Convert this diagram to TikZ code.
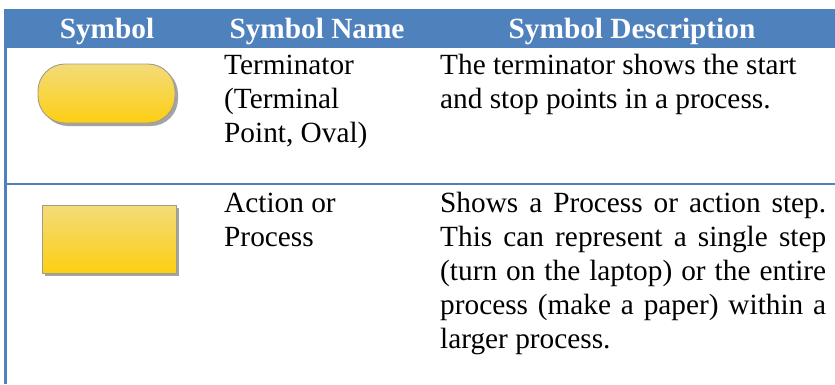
\documentclass[tikz,border=0pt]{standalone}
\usepackage{fontspec}
\setmainfont{Liberation Serif}
\usetikzlibrary{shadows}
\definecolor{hdrblue}{HTML}{4F81BD}
\definecolor{goldtop}{HTML}{F3DB7A}
\definecolor{goldbot}{HTML}{FDCF12}
\definecolor{edgegray}{HTML}{A39C8A}

% a fully justified line of a fixed width
\newcommand{\fullline}[1]{\makebox[386pt][s]{#1}}

\begin{document}
\begin{tikzpicture}[x=1pt,y=-1pt,
  cell/.style={anchor=base west, inner sep=0pt, font=\fontsize{29.3}{34.3}\selectfont},
  head/.style={anchor=base, inner sep=0pt, text=white, font=\fontsize{29.3}{34.3}\selectfont\bfseries},
  symfill/.style={top color=goldtop, bottom color=goldbot, draw=edgegray, line width=0.9pt,
    inner sep=0pt, drop shadow={shadow xshift=3pt, shadow yshift=-3pt, fill=black!45, opacity=0.8}},
  rule/.style={draw=hdrblue, line width=2.5pt}
]
\useasboundingbox (0,0) rectangle (835,384);

% header band
\fill[hdrblue] (4,9) rectangle (835,48);
\node[head] (hsym)  at (107,38) {Symbol};
\node[head] (hname) at (317,38) {Symbol Name};
\node[head] (hdesc) at (632,38) {Symbol Description};

% table rules
\draw[rule] (5.3,48) -- (5.3,384);
\draw[rule] (4,184) -- (835,184);

% row 1: terminator
\node[symfill, minimum width=137pt, minimum height=59pt, rounded corners=27pt] (term) at (106.5,93.5) {};
\node[cell] (n1a) at (224,74)    {Terminator};
\node[cell] (n1b) at (224,108.3) {(Terminal};
\node[cell] (n1c) at (224,142.6) {Point, Oval)};
\node[cell] (d1a) at (440,74)    {The terminator shows the start};
\node[cell] (d1b) at (440,108.3) {and stop points in a process.};

% row 2: action or process
\node[symfill, minimum width=134pt, minimum height=68pt] (proc) at (109,239) {};
\node[cell] (n2a) at (224,212.5) {Action or};
\node[cell] (n2b) at (224,246.5) {Process};
\node[cell] (d2a) at (440,212) {\fullline{Shows a Process or action step.}};
\node[cell] (d2b) at (440,246) {\fullline{This can represent a single step}};
\node[cell] (d2c) at (440,280) {\fullline{(turn on the laptop) or the entire}};
\node[cell] (d2d) at (440,314) {\fullline{process (make a paper) within a}};
\node[cell] (d2e) at (440,348) {larger process.};
\end{tikzpicture}
\end{document}
